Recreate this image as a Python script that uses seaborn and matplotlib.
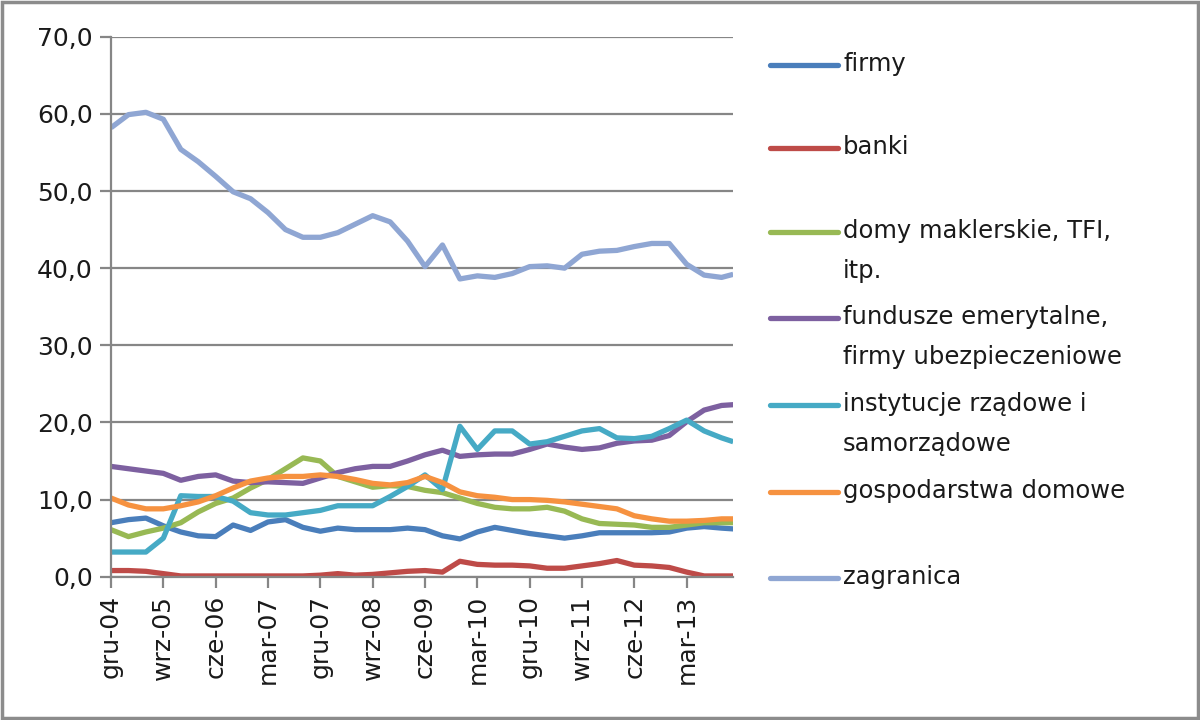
import matplotlib
matplotlib.use("Agg")
import matplotlib.pyplot as plt
from matplotlib.lines import Line2D
from matplotlib.patches import Rectangle
import seaborn as sns
import pandas as pd
import numpy as np

# ---- data (quarterly readings, Dec 2004 .. Sep 2013, plus Nov 2013) ----
dates = list(pd.date_range("2004-12-01", periods=36, freq="3MS")) + [pd.Timestamp("2013-11-01")]

firmy = [7.0, 7.4, 7.6, 6.6, 5.8, 5.3, 5.2, 6.7, 6.0, 7.1, 7.4, 6.4, 5.9, 6.3, 6.1, 6.1, 6.1, 6.3, 6.1,
         5.3, 4.9, 5.8, 6.4, 6.0, 5.6, 5.3, 5.0, 5.3, 5.7, 5.7, 5.7, 5.7, 5.8, 6.3, 6.5, 6.3, 6.2]
banki = [0.8, 0.8, 0.7, 0.4, 0.1, 0.1, 0.1, 0.1, 0.1, 0.1, 0.1, 0.1, 0.2, 0.4, 0.2, 0.3, 0.5, 0.7, 0.8,
         0.6, 2.0, 1.6, 1.5, 1.5, 1.4, 1.1, 1.1, 1.4, 1.7, 2.1, 1.5, 1.4, 1.2, 0.6, 0.1, 0.1, 0.1]
domy = [6.1, 5.2, 5.8, 6.3, 7.0, 8.4, 9.5, 10.2, 11.5, 12.6, 14.0, 15.4, 15.0, 13.0, 12.3, 11.6, 11.8, 11.7, 11.2,
        10.9, 10.2, 9.5, 9.0, 8.8, 8.8, 9.0, 8.5, 7.5, 6.9, 6.8, 6.7, 6.4, 6.4, 6.7, 7.0, 7.0, 7.0]
fundusze = [14.3, 14.0, 13.7, 13.4, 12.5, 13.0, 13.2, 12.4, 12.2, 12.3, 12.2, 12.1, 12.8, 13.5, 14.0, 14.3, 14.3, 15.0, 15.8,
            16.4, 15.6, 15.8, 15.9, 15.9, 16.5, 17.2, 16.8, 16.5, 16.7, 17.3, 17.6, 17.7, 18.3, 20.1, 21.6, 22.2, 22.3]
instytucje = [3.2, 3.2, 3.2, 5.0, 10.5, 10.4, 10.4, 9.8, 8.3, 8.0, 8.0, 8.3, 8.6, 9.2, 9.2, 9.2, 10.4, 11.7, 13.2,
              11.3, 19.5, 16.5, 18.9, 18.9, 17.2, 17.5, 18.2, 18.9, 19.2, 18.0, 17.9, 18.2, 19.2, 20.3, 18.9, 18.0, 17.5]
gospodarstwa = [10.2, 9.3, 8.8, 8.8, 9.2, 9.7, 10.5, 11.5, 12.4, 12.8, 13.0, 13.0, 13.2, 13.0, 12.6, 12.1, 11.9, 12.2, 13.0,
                12.2, 11.0, 10.5, 10.3, 10.0, 10.0, 9.9, 9.7, 9.4, 9.1, 8.8, 7.9, 7.5, 7.2, 7.2, 7.3, 7.5, 7.5]
zagranica = [58.2, 59.9, 60.2, 59.3, 55.4, 53.8, 51.9, 49.9, 49.0, 47.2, 45.0, 44.0, 44.0, 44.6, 45.7, 46.8, 46.0, 43.5, 40.2,
             43.0, 38.6, 39.0, 38.8, 39.3, 40.2, 40.3, 40.0, 41.8, 42.2, 42.3, 42.8, 43.2, 43.2, 40.5, 39.1, 38.8, 39.2]

series_names = ["firmy", "banki", "domy maklerskie, TFI,\nitp.",
                "fundusze emerytalne,\nfirmy ubezpieczeniowe",
                "instytucje rządowe i\nsamorządowe", "gospodarstwa domowe", "zagranica"]
series_values = [firmy, banki, domy, fundusze, instytucje, gospodarstwa, zagranica]
colors = ["#4A7EBB", "#BE4B48", "#98B954", "#7D60A0", "#46AAC5", "#F69240", "#8FA6D3"]

tick_labels = ["gru-04", "wrz-05", "cze-06", "mar-07", "gru-07", "wrz-08",
               "cze-09", "mar-10", "gru-10", "wrz-11", "cze-12", "mar-13"]
y_ticks = [0, 10, 20, 30, 40, 50, 60, 70]

# ---- build long-form frame ----
month_idx = [(d.year - 2004) * 12 + d.month - 12 for d in dates]
rows = []
for name, vals in zip(series_names, series_values):
    for m, v in zip(month_idx, vals):
        rows.append({"month": m, "value": v, "series": name})
df = pd.DataFrame(rows)

sns.set_theme(style="white")
plt.rcParams["font.family"] = ["DejaVu Sans"]

fig = plt.figure(figsize=(12, 7.2), dpi=100)
ax = fig.add_axes([0.0925, 0.199, 0.611 - 0.0925, 0.949 - 0.199])

palette = dict(zip(series_names, colors))
sns.lineplot(data=df, x="month", y="value", hue="series", palette=palette,
             hue_order=series_names, linewidth=3.8, legend=False, ax=ax)
for ln in ax.get_lines():
    ln.set_solid_joinstyle("round")
    ln.set_solid_capstyle("butt")

ax.set_xlim(0, 107)
ax.set_ylim(0, 70)
ax.set_yticks(y_ticks)
ax.set_yticklabels([f"{t:.1f}".replace(".", ",") for t in y_ticks], fontsize=18, color="#1a1a1a")
tick_pos = [i * 9 for i in range(len(tick_labels))]
ax.set_xticks(tick_pos)
ax.set_xticklabels(tick_labels, rotation=90, fontsize=18, color="#1a1a1a")
ax.set_xlabel("")
ax.set_ylabel("")

ax.yaxis.grid(True, color="#868686", linewidth=1.6)
ax.set_axisbelow(True)
for s in ["top", "right"]:
    ax.spines[s].set_visible(False)
for s in ["left", "bottom"]:
    ax.spines[s].set_color("#868686")
    ax.spines[s].set_linewidth(1.6)
ax.tick_params(axis="both", which="both", direction="out", length=8, width=1.6,
               color="#868686", left=True, bottom=True, pad=5)

# ---- manual legend (handle at first line of each entry) ----
legend_y_px = [65, 148, 232, 318, 405, 492, 578]
for name, col, ypx in zip(series_names, colors, legend_y_px):
    yf = 1 - ypx / 720
    fig.add_artist(Line2D([770 / 1200, 838 / 1200], [yf, yf], color=col, linewidth=3.8,
                          solid_capstyle="round", transform=fig.transFigure))
    fig.text(843 / 1200, yf + 13 / 720, name, fontsize=17.5, color="#1a1a1a",
             ha="left", va="top", linespacing=1.85)

# chart border
fig.add_artist(Rectangle((0.002, 0.003), 0.996, 0.994, transform=fig.transFigure,
                         fill=False, edgecolor="#8c8c8c", linewidth=2.5))

fig.savefig("out.png", dpi=100, facecolor="white")
